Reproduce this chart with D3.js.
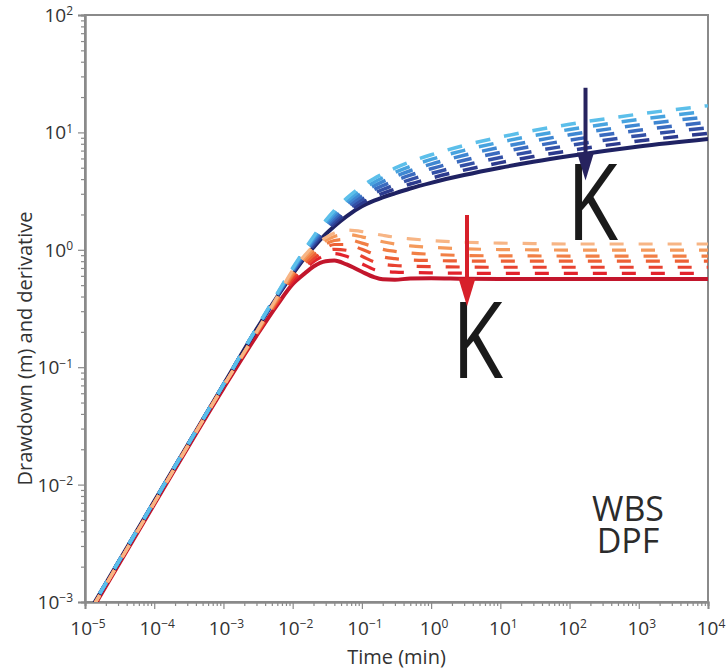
<!DOCTYPE html>
<html>
<head>
<meta charset="utf-8">
<script src="https://cdn.jsdelivr.net/npm/d3@7/dist/d3.min.js"></script>
<style>
  body { margin: 0; background: #fff; }
  svg { display: block; }
  text { font-family: "Open Sans", "DejaVu Sans", sans-serif; }
</style>
</head>
<body>
<svg id="chart" width="726" height="671"></svg>
<script>
// Time (min) samples shared by every curve
const times = [1e-5, 1e-4, 1e-3, 3e-3, 6e-3, 0.01, 0.015, 0.02, 0.03, 0.04, 0.06, 0.1, 0.15, 0.2, 0.3, 0.5, 1, 3, 10, 30, 100, 1000, 1e4];

// Drawdown (m): reference case (solid) and six lower-K cases (dashed, K decreasing upward)
const drawdownRef = [7.2e-4, 7.2e-3, 0.071, 0.21, 0.40, 0.62, 0.86, 1.05, 1.36, 1.59, 1.93, 2.35, 2.62, 2.8, 3.03, 3.33, 3.72, 4.33, 5.0, 5.62, 6.3, 7.6, 8.8];
const drawdownK1 = [7.2e-4, 7.2e-3, 0.071, 0.211, 0.404, 0.633, 0.883, 1.088, 1.422, 1.673, 2.046, 2.509, 2.817, 3.023, 3.289, 3.632, 4.078, 4.771, 5.528, 6.225, 6.988, 8.445, 9.811];
const drawdownK2 = [7.2e-4, 7.2e-3, 0.071, 0.212, 0.408, 0.646, 0.907, 1.128, 1.488, 1.761, 2.169, 2.678, 3.029, 3.263, 3.571, 3.962, 4.469, 5.258, 6.112, 6.896, 7.751, 9.384, 10.94];
const drawdownK3 = [7.2e-4, 7.2e-3, 0.071, 0.213, 0.412, 0.659, 0.932, 1.169, 1.556, 1.853, 2.300, 2.860, 3.258, 3.522, 3.877, 4.322, 4.899, 5.793, 6.757, 7.638, 8.598, 10.43, 12.20];
const drawdownK4 = [7.2e-4, 7.2e-3, 0.071, 0.213, 0.416, 0.672, 0.957, 1.211, 1.627, 1.950, 2.438, 3.053, 3.503, 3.802, 4.209, 4.715, 5.370, 6.384, 7.471, 8.461, 9.537, 11.59, 13.60];
const drawdownK5 = [7.2e-4, 7.2e-3, 0.071, 0.214, 0.421, 0.686, 0.983, 1.255, 1.702, 2.052, 2.585, 3.259, 3.767, 4.105, 4.569, 5.143, 5.886, 7.034, 8.260, 9.372, 10.58, 12.88, 15.16];
const drawdownK6 = [7.2e-4, 7.2e-3, 0.071, 0.215, 0.425, 0.70, 1.01, 1.30, 1.78, 2.16, 2.74, 3.48, 4.05, 4.43, 4.96, 5.61, 6.45, 7.75, 9.13, 10.38, 11.73, 14.31, 16.9];

// Log-derivative (m): same cases
const derivRef = [6.8e-4, 6.8e-3, 0.066, 0.185, 0.34, 0.51, 0.63, 0.72, 0.8, 0.81, 0.75, 0.65, 0.585, 0.56, 0.555, 0.57, 0.572, 0.567, 0.565, 0.565, 0.565, 0.565, 0.565];
const derivK1 = [7e-4, 7e-3, 0.069, 0.19, 0.35, 0.54, 0.68, 0.79, 0.9, 0.93, 0.88, 0.76, 0.68, 0.655, 0.645, 0.64, 0.636, 0.632, 0.63, 0.63, 0.63, 0.63, 0.63];
const derivK2 = [7e-4, 7e-3, 0.069, 0.19, 0.36, 0.57, 0.72, 0.84, 0.97, 1.01, 0.99, 0.88, 0.79, 0.755, 0.735, 0.725, 0.718, 0.713, 0.71, 0.71, 0.71, 0.71, 0.71];
const derivK3 = [7e-4, 7e-3, 0.069, 0.195, 0.37, 0.6, 0.77, 0.9, 1.04, 1.11, 1.11, 1.01, 0.92, 0.87, 0.84, 0.82, 0.81, 0.803, 0.8, 0.8, 0.8, 0.8, 0.8];
const derivK4 = [7e-4, 7e-3, 0.069, 0.195, 0.38, 0.62, 0.81, 0.96, 1.12, 1.2, 1.23, 1.14, 1.06, 1.01, 0.97, 0.94, 0.915, 0.895, 0.888, 0.886, 0.885, 0.885, 0.885];
const derivK5 = [7e-4, 7e-3, 0.069, 0.2, 0.39, 0.645, 0.86, 1.02, 1.2, 1.3, 1.35, 1.29, 1.22, 1.17, 1.12, 1.08, 1.05, 1.02, 1.005, 1.0, 0.995, 0.995, 0.995];
const derivK6 = [7e-4, 7e-3, 0.069, 0.2, 0.4, 0.67, 0.9, 1.08, 1.27, 1.39, 1.47, 1.43, 1.37, 1.33, 1.28, 1.24, 1.2, 1.16, 1.14, 1.13, 1.12, 1.12, 1.12];

// Axis decades
const xDecades = [-5, -4, -3, -2, -1, 0, 1, 2, 3, 4];
const yDecades = [-3, -2, -1, 0, 1, 2];

// Colours, darkest (highest K) first
const blueShades = ["#2c3a8e", "#3350a6", "#3a6bbf", "#3f87d2", "#47a3df", "#5cbfea"];
const redShades = ["#e2232c", "#e84230", "#ed6136", "#f17f45", "#f49a5c", "#f7b585"];

const svg = d3.select("#chart");
const margin = { left: 85, right: 18, top: 15, bottom: 69 };
const W = 726, H = 671;

const x = d3.scaleLog().domain([1e-5, 1e4]).range([margin.left, W - margin.right]);
const y = d3.scaleLog().domain([1e-3, 1e2]).range([H - margin.bottom, margin.top]);

const axisColor = "#8a8a8a";
const textColor = "#333";

svg.append("defs").append("clipPath").attr("id", "plotClip")
  .append("rect")
  .attr("x", margin.left).attr("y", margin.top)
  .attr("width", x.range()[1] - margin.left)
  .attr("height", y.range()[0] - margin.top);

// Frame (top and right)
svg.append("rect")
  .attr("x", margin.left).attr("y", margin.top)
  .attr("width", x.range()[1] - margin.left)
  .attr("height", y.range()[0] - margin.top)
  .attr("fill", "none").attr("stroke", axisColor).attr("stroke-width", 2);

// Minor tick values
function minors(decs) {
  const out = [];
  for (let i = 0; i < decs.length - 1; i++)
    for (let m = 2; m <= 9; m++) out.push(m * Math.pow(10, decs[i]));
  return out;
}
const xMajor = xDecades.map(d => Math.pow(10, d));
const yMajor = yDecades.map(d => Math.pow(10, d));

function styleAxis(g) {
  g.select(".domain").attr("stroke", axisColor).attr("stroke-width", 2);
  g.selectAll(".tick line").attr("stroke", axisColor).attr("stroke-width", 1.2);
}

const gx = svg.append("g").attr("transform", `translate(0,${y.range()[0]})`);
gx.append("g").call(d3.axisBottom(x).tickValues(minors(xDecades)).tickSize(4).tickFormat("")).call(styleAxis);
gx.append("g").call(d3.axisBottom(x).tickValues(xMajor).tickSize(7).tickFormat("")).call(styleAxis);

const gy = svg.append("g").attr("transform", `translate(${margin.left},0)`);
gy.append("g").call(d3.axisLeft(y).tickValues(minors(yDecades)).tickSize(4).tickFormat("")).call(styleAxis);
gy.append("g").call(d3.axisLeft(y).tickValues(yMajor).tickSize(7).tickFormat("")).call(styleAxis);

function powerLabel(sel, exp) {
  sel.append("tspan").text("10");
  sel.append("tspan").attr("dy", "-0.55em").attr("font-size", "12px")
    .text(exp < 0 ? "\u2212" + Math.abs(exp) : String(exp));
}

// X tick labels
xDecades.forEach(d => {
  const t = svg.append("text")
    .attr("x", x(Math.pow(10, d)) + 3)
    .attr("y", 635)
    .attr("text-anchor", "middle")
    .attr("font-size", "19px")
    .attr("fill", textColor);
  powerLabel(t, d);
});

// Y tick labels
yDecades.forEach(d => {
  const t = svg.append("text")
    .attr("x", 73)
    .attr("y", y(Math.pow(10, d)) + 7)
    .attr("text-anchor", "end")
    .attr("font-size", "19px")
    .attr("fill", textColor);
  powerLabel(t, d);
});

// Axis titles
svg.append("text")
  .attr("x", (x.range()[0] + x.range()[1]) / 2)
  .attr("y", 664)
  .attr("text-anchor", "middle")
  .attr("font-size", "20px")
  .attr("fill", textColor)
  .text("Time (min)");

svg.append("text")
  .attr("transform", `translate(32,${(y.range()[0] + y.range()[1]) / 2 + 40}) rotate(-90)`)
  .attr("text-anchor", "middle")
  .attr("font-size", "20px")
  .attr("fill", textColor)
  .text("Drawdown (m) and derivative");

// Curves
const line = d3.line()
  .x(d => x(d[0]))
  .y(d => y(d[1]))
  .curve(d3.curveMonotoneX);

const pts = vals => times.map((t, i) => [t, vals[i]]);
const plot = svg.append("g").attr("clip-path", "url(#plotClip)");

const drawdownFamily = [drawdownK1, drawdownK2, drawdownK3, drawdownK4, drawdownK5, drawdownK6];
const derivFamily = [derivK1, derivK2, derivK3, derivK4, derivK5, derivK6];

// Derivative reference (solid)
plot.append("path").datum(pts(derivRef))
  .attr("d", line).attr("fill", "none")
  .attr("stroke", "#c2162c").attr("stroke-width", 4);

// Drawdown reference (solid)
plot.append("path").datum(pts(drawdownRef))
  .attr("d", line).attr("fill", "none")
  .attr("stroke", "#1f2263").attr("stroke-width", 4);

// Drawdown family (dashed)
drawdownFamily.forEach((vals, i) => {
  plot.append("path").datum(pts(vals))
    .attr("d", line).attr("fill", "none")
    .attr("stroke", blueShades[i]).attr("stroke-width", 3.5)
    .attr("stroke-dasharray", "15,14");
});

// Derivative family (dashed)
derivFamily.forEach((vals, i) => {
  plot.append("path").datum(pts(vals))
    .attr("d", line).attr("fill", "none")
    .attr("stroke", redShades[i]).attr("stroke-width", 3.2)
    .attr("stroke-dasharray", "14,15")
    .attr("stroke-dashoffset", 14);
});

// Large K labels
function bigK(tx, s) {
  svg.append("text")
    .attr("x", x(tx)).attr("y", y(s))
    .attr("font-size", "106px")
    .attr("textLength", 51)
    .attr("lengthAdjust", "spacingAndGlyphs")
    .attr("fill", "#1a1a1a")
    .text("K");
}
bigK(92, 1.21);
bigK(2.0, 0.081);

// K arrows, drawn over the labels
function arrow(tx, sTop, sTip, color) {
  const xp = x(tx), y0 = y(sTop), y1 = y(sTip);
  svg.append("line")
    .attr("x1", xp).attr("x2", xp)
    .attr("y1", y0).attr("y2", y1 - 22)
    .attr("stroke", color).attr("stroke-width", 4);
  svg.append("path")
    .attr("d", `M${xp - 8.5},${y1 - 28} L${xp + 8.5},${y1 - 28} L${xp},${y1} Z`)
    .attr("fill", color);
}
arrow(170, 24, 3.9, "#27235f");
arrow(3.3, 1.98, 0.33, "#d7202a");

// Model label
[["WBS", 521], ["DPF", 553]].forEach(([txt, yy]) => {
  svg.append("text")
    .attr("x", 628).attr("y", yy)
    .attr("text-anchor", "middle")
    .attr("font-size", "34px")
    .attr("fill", "#2b2b2b")
    .text(txt);
});
</script>
</body>
</html>
